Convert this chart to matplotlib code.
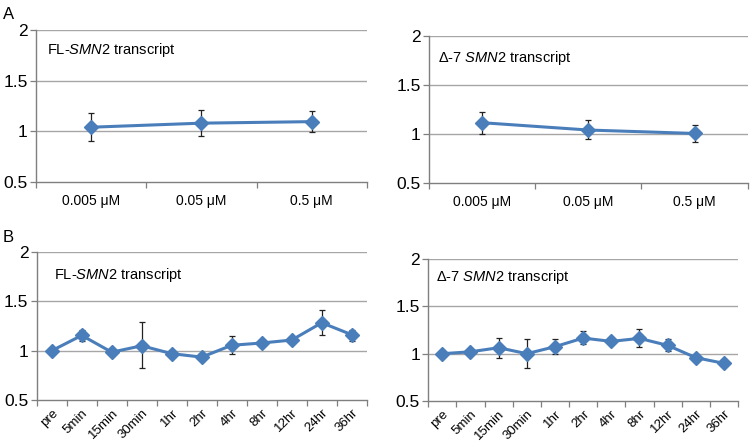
import numpy as np
import matplotlib.pyplot as plt

plt.rcParams['font.family'] = ['Liberation Sans', 'DejaVu Sans']
plt.rcParams['mathtext.fontset'] = 'custom'
plt.rcParams['mathtext.rm'] = 'Liberation Sans'
plt.rcParams['mathtext.it'] = 'Liberation Sans:italic'

# Panel A: dose
dose_labels = ['0.005 μM', '0.05 μM', '0.5 μM']
a_fl = [1.04, 1.08, 1.095]
a_fl_lo = [0.90, 0.95, 0.99]
a_fl_hi = [1.185, 1.21, 1.20]
a_d7 = [1.115, 1.04, 1.005]
a_d7_lo = [1.00, 0.945, 0.92]
a_d7_hi = [1.227, 1.14, 1.09]

# Panel B: time course
time_labels = ['pre', '5min', '15min', '30min', '1hr', '2hr', '4hr', '8hr', '12hr', '24hr', '36hr']
b_fl = [1.0, 1.155, 0.985, 1.05, 0.97, 0.935, 1.055, 1.078, 1.108, 1.283, 1.162]
b_fl_lo = [1.0, 1.10, 0.975, 0.825, 0.97, 0.935, 0.97, 1.078, 1.09, 1.155, 1.10]
b_fl_hi = [1.0, 1.21, 0.995, 1.29, 0.97, 0.935, 1.15, 1.078, 1.125, 1.41, 1.205]
b_d7 = [1.0, 1.02, 1.063, 1.0, 1.074, 1.165, 1.13, 1.162, 1.088, 0.958, 0.898]
b_d7_lo = [1.0, 1.02, 0.955, 0.845, 1.0, 1.10, 1.13, 1.067, 1.025, 0.958, 0.898]
b_d7_hi = [1.0, 1.02, 1.17, 1.16, 1.155, 1.24, 1.13, 1.256, 1.155, 0.958, 0.898]

fl_title = r'FL-$\mathit{SMN2}$ transcript'
d7_title = r'Δ-7 $\mathit{SMN2}$ transcript'
d7_title_b = r'Δ-7 $\mathit{SMN}$2 transcript'

BLUE = '#4a7ebb'
AXC = '#7f7f7f'

fig = plt.figure(figsize=(7.5, 4.46), dpi=100)


def panel(rect, labels, vals, lo, hi, title, tpos, rotate):
    ax = fig.add_axes(rect)
    x = np.arange(len(labels))
    vals = np.array(vals)
    yerr = [vals - np.array(lo), np.array(hi) - vals]
    ax.errorbar(x, vals, yerr=yerr, fmt='none', ecolor='#222222',
                elinewidth=0.9, capsize=2.2, capthick=0.9, zorder=2)
    ax.plot(x, vals, color=BLUE, lw=2.2, marker='D', ms=7,
            mec=BLUE, mfc=BLUE, zorder=3)
    ax.set_xlim(-0.5, len(labels) - 0.5)
    ax.set_ylim(0.5, 2)
    ax.set_yticks([0.5, 1, 1.5, 2])
    ax.set_yticklabels(['0.5', '1', '1.5', '2'], fontsize=12.5)
    for yv in [1, 1.5, 2]:
        ax.axhline(yv, color='#a6a6a6', lw=1.0, zorder=1)
    ax.set_xticks(np.arange(len(labels) + 1) - 0.5)
    ax.set_xticklabels([])
    ax.set_xticks(x, minor=True)
    if rotate:
        ax.set_xticklabels(labels, minor=True, rotation=45, ha='right',
                           rotation_mode='anchor', fontsize=9.5)
    else:
        ax.set_xticklabels(labels, minor=True, fontsize=10)
    ax.tick_params(axis='x', which='minor', length=0, pad=9 if not rotate else 5)
    ax.tick_params(axis='x', which='major', length=4, color=AXC, width=0.9)
    ax.tick_params(axis='y', length=4, color=AXC, width=0.9, pad=2)
    for s in ['top', 'right']:
        ax.spines[s].set_visible(False)
    for s in ['left', 'bottom']:
        ax.spines[s].set_color(AXC)
        ax.spines[s].set_linewidth(1.0)
    ax.text(tpos[0], tpos[1], title, transform=ax.transAxes, fontsize=10.5,
            va='center', ha='left')
    return ax


panel([0.048, 0.592, 0.441, 0.341], dose_labels, a_fl, a_fl_lo, a_fl_hi,
      fl_title, (0.033, 0.87), False)
panel([0.572, 0.590, 0.425, 0.329], dose_labels, a_d7, a_d7_lo, a_d7_hi,
      d7_title, (0.027, 0.85), False)
panel([0.049, 0.103, 0.440, 0.332], time_labels, b_fl, b_fl_lo, b_fl_hi,
      fl_title, (0.052, 0.847), True)
panel([0.571, 0.101, 0.413, 0.318], time_labels, b_d7, b_d7_lo, b_d7_hi,
      d7_title_b, (0.026, 0.873), True)

fig.text(0.004, 0.967, 'A', fontsize=12, va='center', ha='left')
fig.text(0.004, 0.468, 'B', fontsize=12, va='center', ha='left')

fig.savefig('out.png', dpi=100)
